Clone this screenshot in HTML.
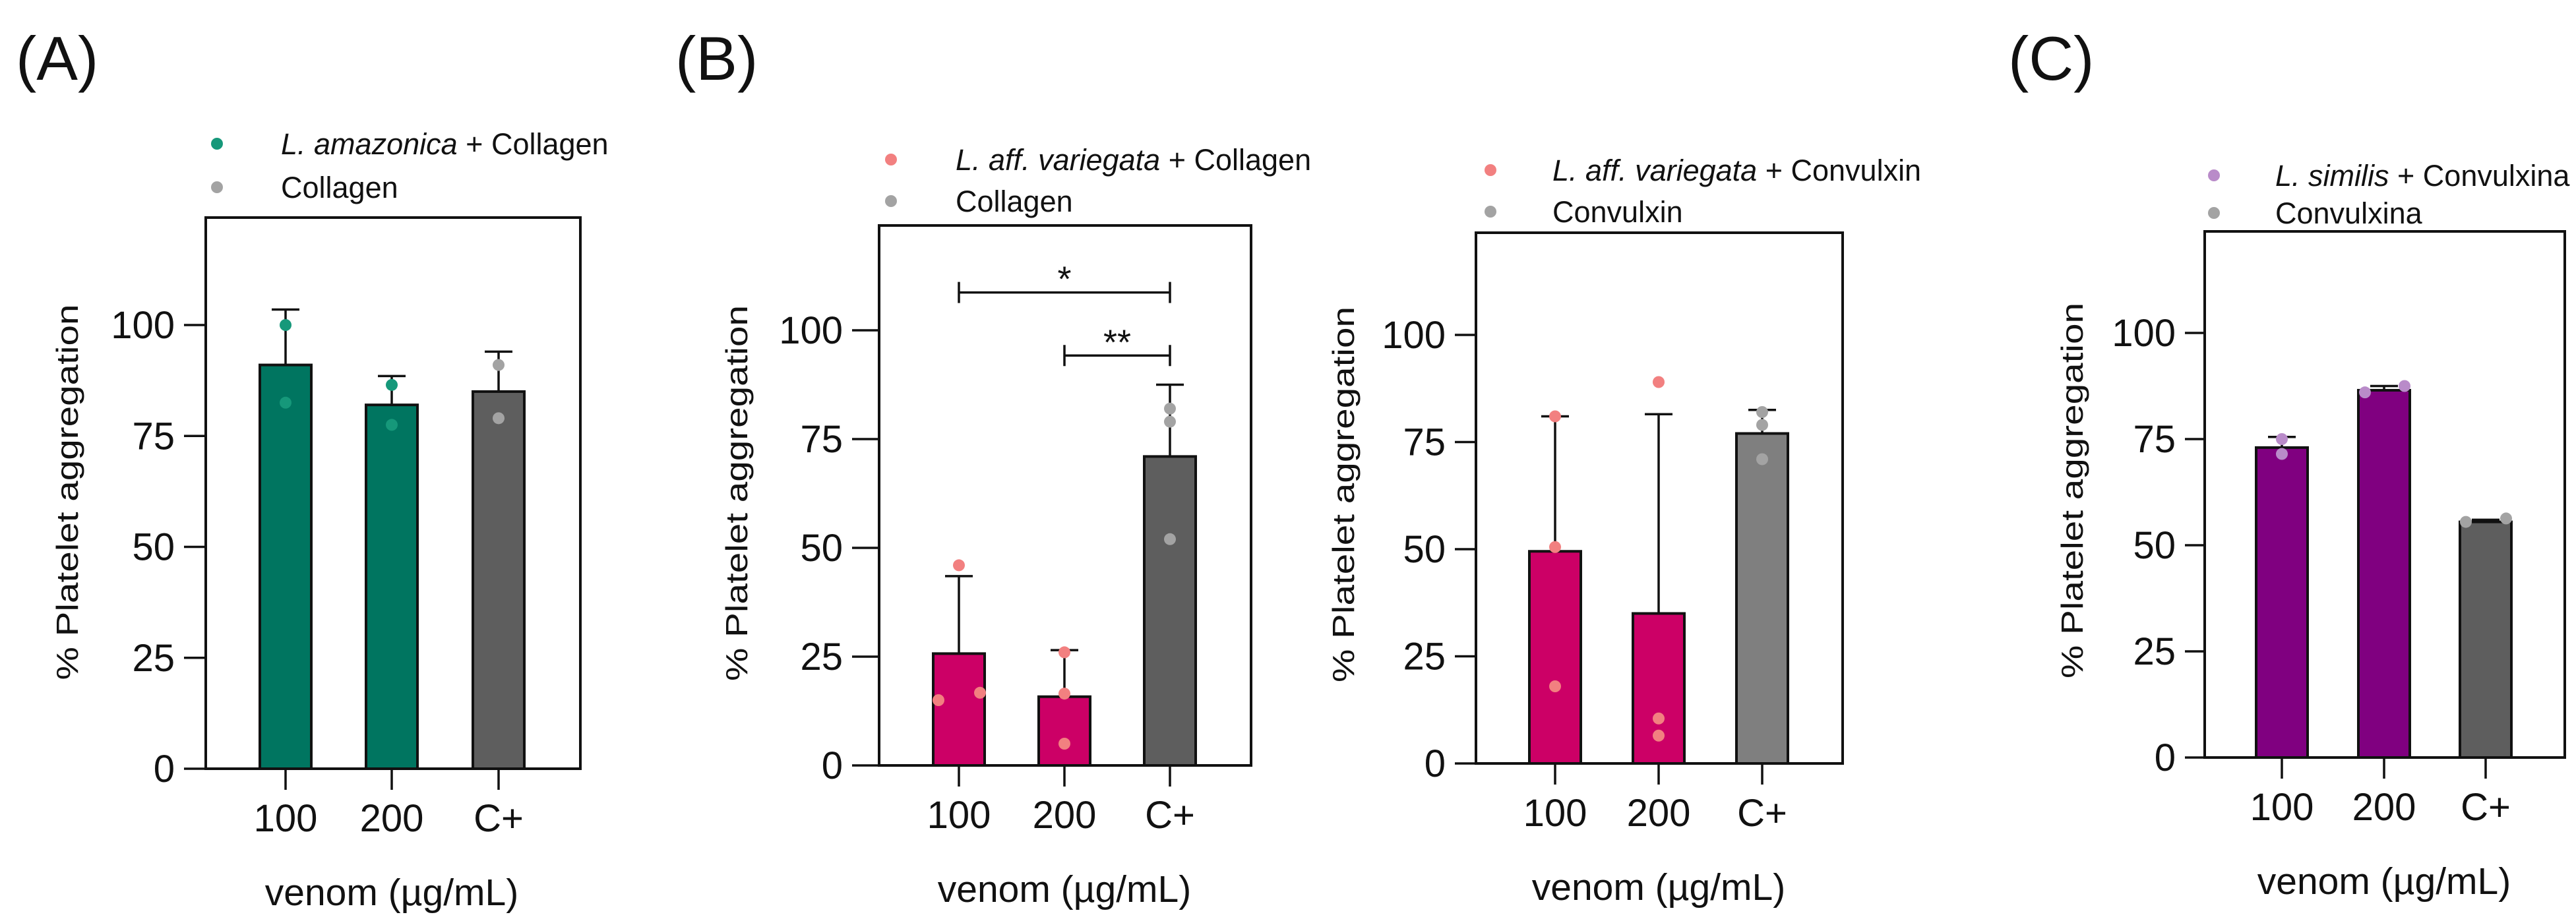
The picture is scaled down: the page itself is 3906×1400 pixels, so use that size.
<!DOCTYPE html>
<html><head><meta charset="utf-8">
<style>
html,body{margin:0;padding:0;background:#fff;}
svg{display:block;font-family:"Liberation Sans",Arial,sans-serif;}
</style></head>
<body>
<svg id="fig" width="3906" height="1400" viewBox="0 0 3906 1400" xmlns="http://www.w3.org/2000/svg"></svg>
<script>
const categories = ["100","200","C+"];
const yTicks = [0,25,50,75,100];
// Panel A
const aMeans = [91, 82, 85];
const aErrTop = [103.5, 88.5, 94];
const aPoints = [[100, 82.5],[86.5, 77.5],[91, 79]];
// Panel B collagen
const bMeans = [25.7, 15.8, 71];
const bErrTop = [43.5, 26.5, 87.5];
const bPoints = [[46, 15, 16.7],[26, 16.5, 5],[82, 79, 52]];
const bSigY = [108.7, 94.2];
// Panel B convulxin
const b2Means = [49.5, 35, 77];
const b2ErrTop = [81, 81.5, 82.5];
const b2Points = [[81, 50.5, 18],[89, 10.5, 6.5],[82, 79, 71]];
// Panel C
const cMeans = [73, 86.5, 55.5];
const cErrTop = [75.5, 87.5, 56];
const cPoints = [[75, 71.5],[86, 87.5],[55.5, 56.3]];

const NS="http://www.w3.org/2000/svg";
const svg=document.getElementById('fig');
function mk(tag,attrs,parent,text){const e=document.createElementNS(NS,tag);for(const k in attrs)e.setAttribute(k,attrs[k]);if(text!==undefined)e.textContent=text;(parent||svg).appendChild(e);return e;}

function panel(cfg){
  const g=mk('g',{});
  
  
  const y=v=>cfg.y0-(cfg.y0-cfg.y100)*v/100;
  const x=i=>cfg.cx[i];
  const fr=mk('rect',{x:cfg.left,y:cfg.top,width:cfg.right-cfg.left,height:cfg.y0-cfg.top,fill:'none',stroke:'#111','stroke-width':4},g);
  
  
  cfg.means.forEach((m,i)=>{
    const col=i==2?cfg.ctrlBar:cfg.bar;
    const b=mk('rect',{x:x(i)-39,y:y(m),width:78,height:y(0)-y(m),fill:col,stroke:'#111','stroke-width':4},g);
    
    
    const e=mk('path',{d:`M${x(i)} ${y(m)}V${y(cfg.err[i])}M${x(i)-21} ${y(cfg.err[i])}H${x(i)+21}`,stroke:'#111','stroke-width':3.5,fill:'none'},g);
    
    
    cfg.points[i].forEach((p,j)=>{
      const dx=(cfg.jit[i]||[])[j]||0;
      const c=mk('circle',{cx:x(i)+dx,cy:y(p),r:9,fill:i==2?cfg.ctrlPt:cfg.pt},g);
      
      
    });
  });
  yTicks.forEach(t=>{
    const l=mk('line',{x1:cfg.tickL,x2:cfg.left,y1:y(t),y2:y(t),stroke:'#111','stroke-width':3.5},g);
    
    
    const tx=mk('text',{x:cfg.tickL-14,y:y(t)+20,'text-anchor':'end','font-size':58,fill:'#111'},g,String(t));
    
    
  });
  categories.forEach((c,i)=>{
    const l=mk('line',{x1:x(i),x2:x(i),y1:cfg.y0,y2:cfg.y0+32,stroke:'#111','stroke-width':3.5},g);
    
    
    const t=mk('text',{x:x(i),y:cfg.y0+95,'text-anchor':'middle','font-size':58,fill:'#111'},g,c);
    
    
  });
  const xt=mk('text',{x:x(1),y:cfg.y0+207,'text-anchor':'middle','font-size':57,fill:'#111'},g,'venom (µg/mL)');
  
  
  const ycy=(cfg.y0+cfg.y100)/2-83;
  const yt=mk('text',{x:cfg.ytx,y:ycy,'text-anchor':'middle','font-size':46,fill:'#111',textLength:570,lengthAdjust:'spacingAndGlyphs',transform:`rotate(-90 ${cfg.ytx} ${ycy})`},g,'% Platelet aggregation');
  
  
  cfg.legend.forEach((L,k)=>{
    const ly=cfg.legY[k];
    const d=mk('circle',{cx:cfg.legDot,cy:ly,r:9,fill:k==0?cfg.pt:cfg.ctrlPt},g);
    
    
    const t=mk('text',{x:cfg.legText,y:ly+16,'font-size':45,fill:'#111'},g);
    
    
    if(L[0]){mk('tspan',{'font-style':'italic'},t,L[0]);}
    mk('tspan',{},t,L[1]);
  });
  if(cfg.sig){
    cfg.sig.forEach((s,k)=>{
      const yy=y(bSigY[k]);
      const p=mk('path',{d:`M${x(s[0])} ${yy}H${x(s[1])}M${x(s[0])} ${yy-16}V${yy+16}M${x(s[1])} ${yy-16}V${yy+16}`,stroke:'#111','stroke-width':3.5,fill:'none'},g);
      
      
      const t=mk('text',{x:(x(s[0])+x(s[1]))/2,y:yy-2,'text-anchor':'middle','font-size':54,fill:'#111'},g,s[2]);
      
      
    });
  }
}

panel({name:'panel-a',left:312,right:880,top:330,y0:1166,y100:493,cx:[433,594,756],tickL:279,ytx:118,
  means:aMeans,err:aErrTop,points:aPoints,jit:[[0,0],[0,0],[0,0]],
  bar:'#007560',ctrlBar:'#5e5e5e',pt:'#16987a',ctrlPt:'#a3a3a3',
  legDot:329,legText:426,legY:[218,284],legend:[['L. amazonica',' + Collagen'],['','Collagen']]});
panel({name:'panel-b-collagen',left:1333,right:1897,top:342,y0:1161,y100:501,cx:[1454,1614,1774],tickL:1292,ytx:1133,
  means:bMeans,err:bErrTop,points:bPoints,jit:[[0,-31,32],[0,0,0],[0,0,0]],
  bar:'#cc0066',ctrlBar:'#5e5e5e',pt:'#f28080',ctrlPt:'#a3a3a3',
  legDot:1351,legText:1449,legY:[242,305],legend:[['L. aff. variegata',' + Collagen'],['','Collagen']],
  sig:[[0,2,'*'],[1,2,'**']]});
panel({name:'panel-b-convulxin',left:2238,right:2794,top:353,y0:1158,y100:508,cx:[2358,2515,2672],tickL:2206,ytx:2053,
  means:b2Means,err:b2ErrTop,points:b2Points,jit:[[0,0,0],[0,0,0],[0,0,0]],
  bar:'#cc0066',ctrlBar:'#7f7f7f',pt:'#f28080',ctrlPt:'#a3a3a3',
  legDot:2260,legText:2354,legY:[258,321],legend:[['L. aff. variegata',' + Convulxin'],['','Convulxin']]});
panel({name:'panel-c',left:3343,right:3889,top:351,y0:1149,y100:505,cx:[3460,3615,3769],tickL:3313,ytx:3158,
  means:cMeans,err:cErrTop,points:cPoints,jit:[[0,0],[-29,31],[-30,31]],
  bar:'#800080',ctrlBar:'#5e5e5e',pt:'#b98bc9',ctrlPt:'#a3a3a3',
  legDot:3357,legText:3450,legY:[266,323],legend:[['L. similis',' + Convulxina'],['','Convulxina']]});

[['(A)',24],['(B)',1024],['(C)',3045]].forEach(p=>{
  const t=mk('text',{x:p[1],y:121,'font-size':94,fill:'#111'},svg,p[0]);
  
  
});
</script>
</body></html>
